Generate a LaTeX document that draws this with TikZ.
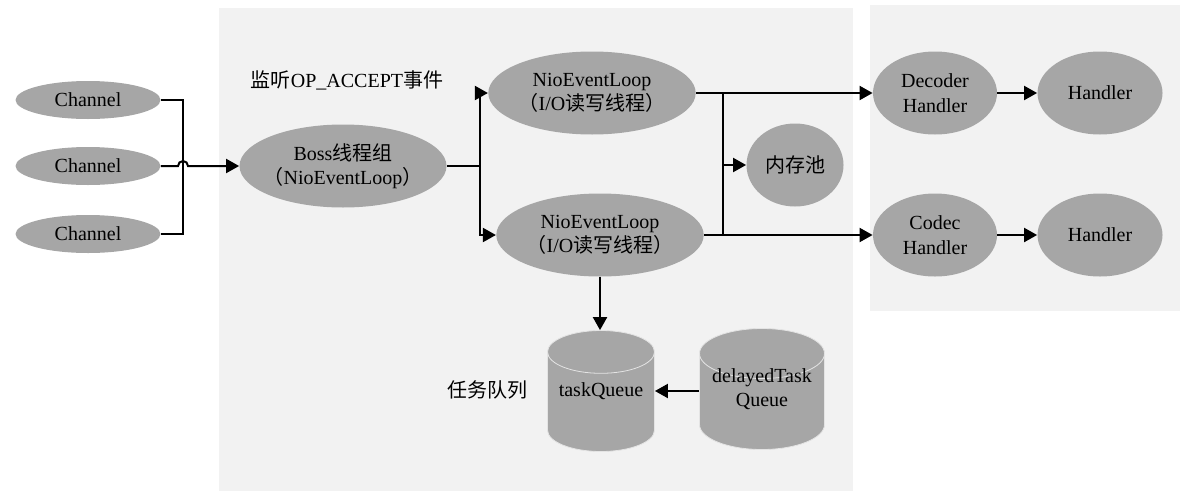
\documentclass[tikz,border=0pt]{standalone}
\usepackage{fontspec}
\setmainfont{Liberation Serif}
\newfontfamily\cjk{Noto Sans CJK SC}
\usetikzlibrary{shapes.geometric,arrows.meta}
\newcommand{\zh}[1]{{\cjk #1}}
\definecolor{panelgray}{HTML}{F2F2F2}
\definecolor{nodegray}{HTML}{A6A6A6}

\begin{document}
\begin{tikzpicture}[x=0.5pt,y=-0.5pt,
    txt/.style={align=center,font=\fontsize{10}{12.2}\selectfont},
    blob/.style={txt,ellipse,fill=nodegray,inner sep=0pt,minimum height=41.5pt},
    drum/.style={cylinder,shape border rotate=90,aspect=0.4,fill=nodegray,draw=white!70!nodegray,line width=0.4pt,inner sep=0pt,minimum height=60.5pt,anchor=shape center},
    flow/.style={-{Triangle[length=6.5pt,width=7pt]},line width=1pt},
    wire/.style={line width=1pt}]
    \useasboundingbox (0,0) rectangle (1197,498);
    % panels
    \fill[panelgray] (219,8) rectangle (853,491);
    \fill[panelgray] (870,5) rectangle (1180,311);

    % Channels
    \node[blob,minimum width=72.5pt,minimum height=19pt] (ch1) at (88,100) {Channel};
    \node[blob,minimum width=72.5pt,minimum height=19pt] (ch2) at (88,166) {Channel};
    \node[blob,minimum width=72.5pt,minimum height=19pt] (ch3) at (88,234) {Channel};
    \coordinate (chbus) at (183,166);

    % Boss
    \node[blob,minimum width=103.5pt] (boss) at (343,166) {Boss\zh{线程组}\\\makebox[72pt]{\zh{（}NioEventLoop\zh{）}}};
    \node[txt] (acceptlbl) at (347,80) {\zh{监听}OP\_ACCEPT\zh{事件}};
    \coordinate (bsplit) at (480,166);

    % worker loops
    \node[blob,minimum width=102.5pt] (nio1) at (592,93) {NioEventLoop\\\zh{（}I/O\zh{读写线程）}};
    \node[blob,minimum width=102.5pt] (nio2) at (600,235) {NioEventLoop\\\zh{（}I/O\zh{读写线程）}};
    \node[blob,minimum width=48.5pt] (pool) at (795,165) {\zh{内存池}};
    \coordinate (mbus) at (723,165);

    % pipeline
    \node[blob,minimum width=62pt] (dec) at (935,93) {Decoder\\Handler};
    \node[blob,minimum width=62.5pt] (h1) at (1100,93) {Handler};
    \node[blob,minimum width=62pt] (codec) at (935,235) {Codec\\Handler};
    \node[blob,minimum width=62.5pt] (h2) at (1100,235) {Handler};

    % queues
    \node[drum] (tq) at (601,391) {\hspace*{53.5pt}};
    \node[drum] (dq) at (762,389) {\hspace*{62.5pt}};
    \node[txt] (tqtext) at (tq.shape center) {taskQueue};
    \node[txt] (dqtext) at (dq.shape center) {delayedTask\\Queue};
    \node[txt] (queuelbl) at (487,390) {\zh{任务队列}};

    \draw[wire] (ch1.east) -| (chbus) |- (ch3.east);
    \draw[flow] (ch2.east) -- ([xshift=-2.5pt]chbus) arc[start angle=180,end angle=0,radius=2.5pt] -- (boss.west);
    \draw[wire] (boss.east) -- (bsplit);
    \draw[flow] (bsplit) |- (nio1.west);
    \draw[flow] (bsplit) |- (nio2.west);
    \draw[flow] (nio1.east) -- (dec.west);
    \draw[flow] (nio2.east) -- (codec.west);
    \draw[wire] (nio1.east -| mbus) -- (nio2.east -| mbus);
    \draw[flow] (mbus) -- (pool.west);
    \draw[flow] (dec.east) -- (h1.west);
    \draw[flow] (codec.east) -- (h2.west);
    \draw[flow] (nio2.south) -- (nio2.south |- tq.north);
    \draw[flow] (dq.west |- tqtext) -- (tq.east |- tqtext);
\end{tikzpicture}
\end{document}
